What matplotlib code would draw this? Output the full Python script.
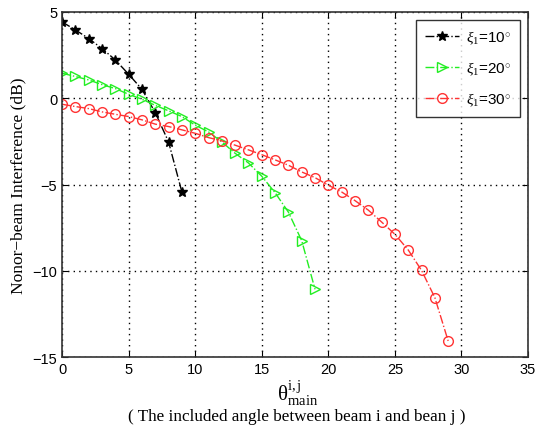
import matplotlib
matplotlib.use("Agg")
import matplotlib.pyplot as plt
import numpy as np

x10 = list(range(0, 10))
y10 = [4.42, 3.96, 3.46, 2.88, 2.22, 1.39, 0.52, -0.83, -2.53, -5.43]

x20 = list(range(0, 20))
y20 = [1.45, 1.26, 1.06, 0.79, 0.56, 0.23, -0.06, -0.41, -0.73, -1.06,
       -1.56, -1.95, -2.53, -3.19, -3.75, -4.52, -5.47, -6.60, -8.25, -11.07]

x30 = list(range(0, 30))
y30 = [-0.35, -0.48, -0.60, -0.79, -0.93, -1.06, -1.25, -1.50, -1.64, -1.83,
       -2.03, -2.28, -2.47, -2.72, -2.99, -3.27, -3.57, -3.88, -4.27, -4.60,
       -5.04, -5.43, -5.93, -6.48, -7.17, -7.88, -8.79, -9.97, -11.55, -14.06]

labels = [r"$\xi_1$=10$^{\circ}$", r"$\xi_1$=20$^{\circ}$", r"$\xi_1$=30$^{\circ}$"]
xticks = [0, 5, 10, 15, 20, 25, 30, 35]
yticks = [-15, -10, -5, 0, 5]

plt.rcParams['font.family'] = ['Liberation Sans', 'DejaVu Sans']
plt.rcParams['mathtext.fontset'] = 'custom'
plt.rcParams['mathtext.rm'] = 'Liberation Serif'
plt.rcParams['mathtext.it'] = 'Liberation Serif:italic'

fig = plt.figure(figsize=(5.35, 4.31), dpi=100)
ax = fig.add_axes([0.116, 0.169, 0.871, 0.801])

ax.plot(x10, y10, linestyle='-.', color='black', marker='*', markersize=7,
        linewidth=1.0, label=labels[0])
ax.plot(x20, y20, linestyle='-.', color='#22ee22', marker='>', markersize=7,
        markerfacecolor='none', linewidth=1.0, label=labels[1])
ax.plot(x30, y30, linestyle='-.', color='#ff3333', marker='o', markersize=7,
        markerfacecolor='none', linewidth=1.0, label=labels[2])

ax.set_xlim(0, 35)
ax.set_ylim(-15, 5)
ax.set_xticks(xticks)
ax.set_yticks(yticks)
ax.grid(True, color='black', linestyle=(0, (1, 3)), linewidth=1.0)
ax.tick_params(direction='in', labelsize=10.5, top=True, right=True, length=4)
for s in ax.spines.values():
    s.set_linewidth(1.2)
    s.set_color('#333333')

ax.set_ylabel("Nonor\u2212beam Interference (dB)", family='Liberation Serif', fontsize=12.5)

fig.text(0.556, 0.085, r"$\mathrm{θ}^{\mathrm{i,j}}_{\mathrm{main}}$", ha='center', va='center', fontsize=15)
fig.text(0.555, 0.032, "( The included angle between beam i and bean j )",
         family='Liberation Serif', fontsize=12.3, ha='center', va='center')

leg = ax.legend(loc='upper right', fontsize=11, frameon=True, fancybox=False,
                edgecolor='black', handlelength=2.2, borderpad=0.6, labelspacing=0.9,
                handletextpad=0.5)
leg.get_frame().set_linewidth(1.0)

fig.savefig("out.png", dpi=100)
